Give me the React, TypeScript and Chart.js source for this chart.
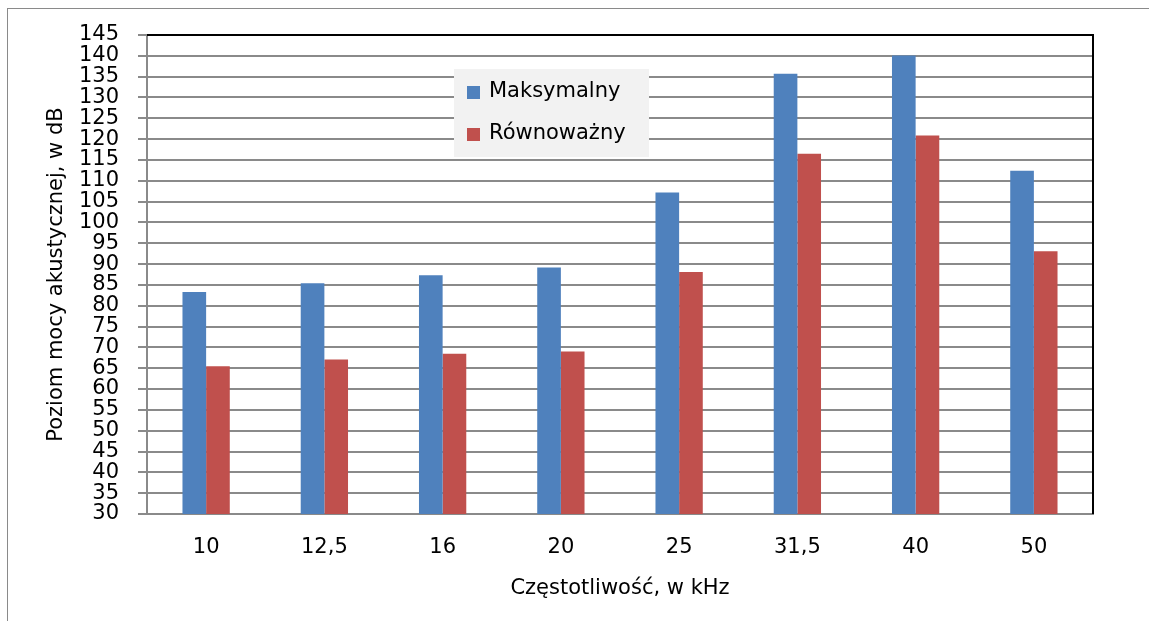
import React, { useEffect, useRef } from 'react';
import { Chart, registerables } from 'chart.js';

Chart.register(...registerables);

const categories = ['10', '12,5', '16', '20', '25', '31,5', '40', '50'];
const maksymalny = [83.3, 85.4, 87.3, 89.2, 107.2, 135.7, 140.1, 112.4];
const rownowazny = [65.5, 67.1, 68.5, 69.0, 88.1, 116.5, 120.9, 93.1];
const seriesLabels = ['Maksymalny', 'Równoważny'];
const seriesColors = ['#4F81BD', '#C0504D'];
const yTitle = 'Poziom mocy akustycznej, w dB';
const xTitle = 'Częstotliwość, w kHz';
const yMin = 30;
const yMax = 145;
const yStep = 5;

const FONT = "'DejaVu Sans', sans-serif";
const FS = 21;

const framePlugin = {
  id: 'frame',
  beforeDraw(chart: any) {
    const ctx = chart.ctx;
    ctx.save();
    ctx.fillStyle = '#ffffff';
    ctx.fillRect(0, 0, chart.width, chart.height);
    ctx.strokeStyle = '#8a8a8a';
    ctx.lineWidth = 1;
    ctx.strokeRect(7.5, 8.5, chart.width + 40, chart.height + 40);
    ctx.restore();
  },
  afterDatasetsDraw(chart: any) {
    const { ctx, chartArea } = chart;
    ctx.save();
    ctx.strokeStyle = '#000000';
    ctx.lineWidth = 2;
    ctx.beginPath();
    ctx.moveTo(chartArea.left, chartArea.top);
    ctx.lineTo(chartArea.right, chartArea.top);
    ctx.lineTo(chartArea.right, chartArea.bottom);
    ctx.stroke();
    ctx.restore();
  },
  afterDraw(chart: any) {
    const ctx = chart.ctx;
    const bx = 454, by = 69, bw = 195, bh = 88;
    ctx.save();
    ctx.fillStyle = '#F2F2F2';
    ctx.fillRect(bx, by, bw, bh);
    ctx.font = `${FS}px ${FONT}`;
    ctx.textBaseline = 'middle';
    ctx.textAlign = 'left';
    chart.data.datasets.forEach((ds: any, i: number) => {
      const cy = by + 23 + i * 42;
      ctx.fillStyle = ds.backgroundColor;
      ctx.fillRect(bx + 13, cy - 6, 13, 13);
      ctx.fillStyle = '#000000';
      ctx.fillText(ds.label, bx + 35, cy);
    });
    ctx.restore();
  },
};

export default function App() {
  const ref = useRef<HTMLCanvasElement | null>(null);
  useEffect(() => {
    if (!ref.current) return;
    const chart = new Chart(ref.current, {
      type: 'bar',
      data: {
        labels: categories,
        datasets: [
          { label: seriesLabels[0], data: maksymalny, backgroundColor: seriesColors[0] },
          { label: seriesLabels[1], data: rownowazny, backgroundColor: seriesColors[1] },
        ],
      },
      options: {
        responsive: false,
        animation: false,
        devicePixelRatio: 1,
        layout: { padding: { left: 0, top: 35, right: 56, bottom: 0 } },
        datasets: { bar: { categoryPercentage: 0.4, barPercentage: 1.0 } },
        plugins: { legend: { display: false }, tooltip: { enabled: false } },
        scales: {
          x: {
            grid: { display: false, drawTicks: false },
            border: { display: true, color: '#8a8a8a', width: 2 },
            ticks: { color: '#000', font: { family: FONT, size: FS }, padding: 21, maxRotation: 0 },
            title: { display: true, text: xTitle, color: '#000', font: { family: FONT, size: FS }, padding: { top: 0, bottom: 20 } },
            afterFit(scale: any) { scale.height = 107; },
          },
          y: {
            min: yMin,
            max: yMax,
            ticks: { stepSize: yStep, color: '#000', font: { family: FONT, size: FS }, padding: 19, autoSkip: false },
            grid: { color: '#8a8a8a', lineWidth: 2, drawTicks: true, tickLength: 9, tickColor: '#8a8a8a' },
            border: { display: true, color: '#8a8a8a', width: 2 },
            title: { display: true, text: yTitle, color: '#000', font: { family: FONT, size: FS }, padding: { top: 44, bottom: 0 } },
            afterFit(scale: any) { scale.width = 147; },
          },
        },
      },
      plugins: [framePlugin],
    });
    return () => chart.destroy();
  }, []);
  return (
    <div style={{ position: 'fixed', left: 0, top: 0, width: 1149, height: 621 }}>
      <canvas ref={ref} width={1149} height={621} />
    </div>
  );
}
